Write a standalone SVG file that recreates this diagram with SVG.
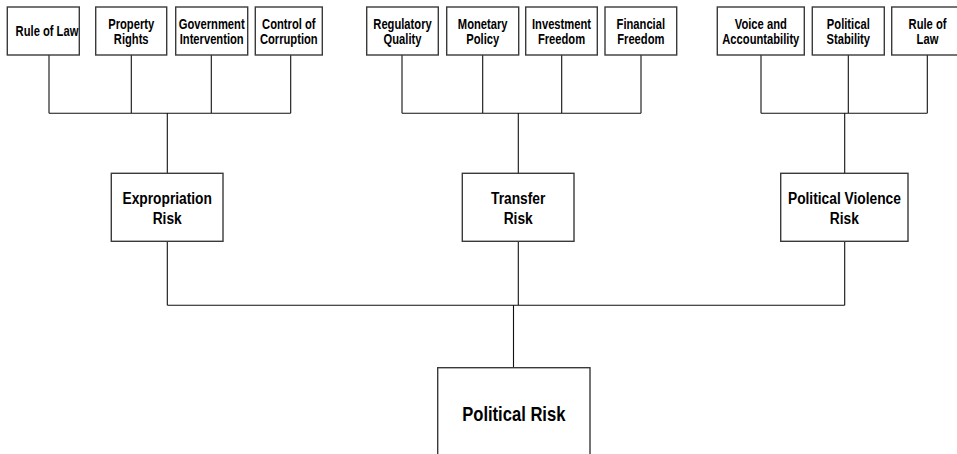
<svg xmlns="http://www.w3.org/2000/svg" width="957" height="454" viewBox="0 0 957 454">
<style>
.box{fill:#fff;stroke:#3a3a3a;stroke-width:1.4}
.t{font-family:"Liberation Sans",Arial,sans-serif;font-weight:bold;fill:#000;text-anchor:middle}
.s{font-size:14px}
.m{font-size:17px}
.l{font-size:20px}
.c{fill:none;stroke:#111;stroke-width:1.1}
</style>
<rect width="957" height="454" fill="#fff"/>
<g id="connectors">
<path class="c" d="M49 55V113.3M131.3 55V113.3M211.3 55V113.3M290.7 55V113.3M49 113.3H290.7M167.3 113.3V173.3"/>
<path class="c" d="M402 55V113.3M482.7 55V113.3M561.7 55V113.3M641 55V113.3M402 113.3H641M518.3 113.3V173.3"/>
<path class="c" d="M761 55V113.3M848.3 55V113.3M927.3 55V113.3M761 113.3H927.3M844.7 113.3V173.3"/>
<path class="c" d="M167.3 241.3V305.3M518.3 241.3V305.3M844.7 241.3V305.3M167.3 305.3H844.7M513.5 305.3V367.7"/>
</g>
<g id="n-rule-of-law-1"><rect class="box" x="7.3" y="7" width="72" height="48"/><text class="t s" transform="translate(47 36) scale(0.8 1)">Rule of Law</text></g>
<g id="n-property-rights"><rect class="box" x="95.7" y="7" width="71" height="48"/><text class="t s" transform="translate(131.2 0) scale(0.8 1)"><tspan x="0" y="29.5">Property</tspan><tspan x="0" y="44.5">Rights</tspan></text></g>
<g id="n-government-intervention"><rect class="box" x="175.7" y="7" width="72" height="48"/><text class="t s" transform="translate(211.7 0) scale(0.8 1)"><tspan x="0" y="29.5">Government</tspan><tspan x="0" y="44.5">Intervention</tspan></text></g>
<g id="n-control-of-corruption"><rect class="box" x="255.3" y="7" width="67" height="48"/><text class="t s" transform="translate(288.8 0) scale(0.8 1)"><tspan x="0" y="29.5">Control of</tspan><tspan x="0" y="44.5">Corruption</tspan></text></g>
<g id="n-regulatory-quality"><rect class="box" x="366.7" y="7" width="71.6" height="48"/><text class="t s" transform="translate(402.5 0) scale(0.8 1)"><tspan x="0" y="29.5">Regulatory</tspan><tspan x="0" y="44.5">Quality</tspan></text></g>
<g id="n-monetary-policy"><rect class="box" x="446.7" y="7" width="72" height="48"/><text class="t s" transform="translate(482.7 0) scale(0.8 1)"><tspan x="0" y="29.5">Monetary</tspan><tspan x="0" y="44.5">Policy</tspan></text></g>
<g id="n-investment-freedom"><rect class="box" x="525.7" y="7" width="71.6" height="48"/><text class="t s" transform="translate(561.5 0) scale(0.8 1)"><tspan x="0" y="29.5">Investment</tspan><tspan x="0" y="44.5">Freedom</tspan></text></g>
<g id="n-financial-freedom"><rect class="box" x="605" y="7" width="71.7" height="48"/><text class="t s" transform="translate(640.8 0) scale(0.8 1)"><tspan x="0" y="29.5">Financial</tspan><tspan x="0" y="44.5">Freedom</tspan></text></g>
<g id="n-voice-and-accountability"><rect class="box" x="717.3" y="7" width="87" height="48"/><text class="t s" transform="translate(760.8 0) scale(0.8 1)"><tspan x="0" y="29.5">Voice and</tspan><tspan x="0" y="44.5">Accountability</tspan></text></g>
<g id="n-political-stability"><rect class="box" x="812.3" y="7" width="72" height="48"/><text class="t s" transform="translate(848.3 0) scale(0.8 1)"><tspan x="0" y="29.5">Political</tspan><tspan x="0" y="44.5">Stability</tspan></text></g>
<g id="n-rule-of-law-2"><rect class="box" x="891.7" y="7" width="72" height="48"/><text class="t s" transform="translate(927.5 0) scale(0.8 1)"><tspan x="0" y="29.5">Rule of</tspan><tspan x="0" y="44.5">Law</tspan></text></g>
<g id="n-expropriation-risk"><rect class="box" x="111.3" y="173.3" width="111.7" height="68"/><text class="t m" transform="translate(167.2 0) scale(0.81 1)"><tspan x="0" y="204.5">Expropriation</tspan><tspan x="0" y="224.5">Risk</tspan></text></g>
<g id="n-transfer-risk"><rect class="box" x="462.3" y="173.3" width="111.7" height="68"/><text class="t m" transform="translate(518.2 0) scale(0.81 1)"><tspan x="0" y="204.5">Transfer</tspan><tspan x="0" y="224.5">Risk</tspan></text></g>
<g id="n-political-violence-risk"><rect class="box" x="780.7" y="173.3" width="127.3" height="68"/><text class="t m" transform="translate(844.4 0) scale(0.81 1)"><tspan x="0" y="204.5">Political Violence</tspan><tspan x="0" y="224.5">Risk</tspan></text></g>
<g id="n-political-risk"><rect class="box" x="437.7" y="367.7" width="152.3" height="100"/><text class="t l" transform="translate(513.8 421) scale(0.83 1)">Political Risk</text></g>
</svg>
